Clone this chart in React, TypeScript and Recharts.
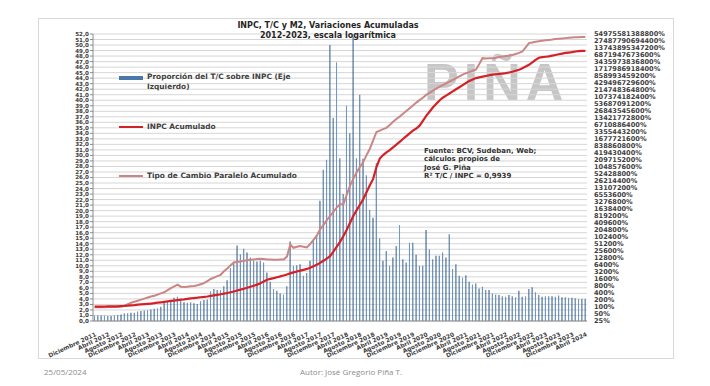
import React from 'react';
import { ComposedChart, Bar, Line, XAxis, YAxis, CartesianGrid } from 'recharts';

// Meses, diciembre 2011 a abril 2024
const monthNames = ['Enero', 'Febrero', 'Marzo', 'Abril', 'Mayo', 'Junio', 'Julio', 'Agosto', 'Septiembre', 'Octubre', 'Noviembre', 'Diciembre'];
const months: string[] = [];
for (let k = 0; k < 149; k++) {
  months.push(`${monthNames[(11 + k) % 12]} ${2011 + Math.floor((11 + k) / 12)}`);
}

// Proporción del T/C sobre INPC (eje izquierdo)
const ratioTcInpc = [
  1.0, 1.0, 1.0, 1.0, 0.9, 0.9, 1.0, 1.1, 1.2, 1.4,
  1.4, 1.5, 1.5, 1.7, 1.8, 1.9, 2.0, 2.1, 2.2, 2.3,
  2.6, 3.4, 3.5, 3.7, 4.2, 4.4, 3.7, 3.4, 3.3, 3.4,
  3.2, 3.1, 3.6, 3.8, 3.9, 5.4, 5.8, 5.6, 5.6, 6.3,
  7.4, 9.6, 10.8, 13.7, 12.1, 13.1, 12.4, 11.5, 10.9, 10.8,
  10.9, 10.6, 8.8, 7.1, 5.8, 5.5, 5.0, 4.8, 6.3, 14.4,
  10.0, 10.1, 10.3, 8.2, 8.7, 10.9, 14.5, 15.6, 21.8, 27.4,
  29.2, 50.0, 36.8, 46.9, 29.5, 23.0, 39.0, 34.0, 51.5, 29.5,
  41.0, 29.4, 26.4, 20.1, 18.7, 28.6, 15.0, 10.9, 12.7, 10.0,
  11.5, 13.6, 17.4, 11.2, 10.6, 14.2, 14.2, 12.0, 10.0, 10.0,
  16.5, 13.0, 11.2, 11.8, 11.8, 12.4, 11.5, 15.7, 9.4, 10.3,
  8.2, 7.9, 8.3, 7.1, 6.6, 6.8, 5.9, 6.2, 5.6, 5.6,
  5.0, 4.8, 4.7, 4.5, 4.4, 4.7, 4.5, 4.3, 5.5, 4.4,
  4.5, 5.8, 6.1, 5.2, 4.7, 4.4, 4.5, 4.5, 4.5, 4.4,
  4.6, 4.3, 4.3, 4.2, 4.2, 4.1, 4.0, 4.0, 4.0,
];

// INPC acumulado, % (eje derecho, log)
const inpcAcum = [
  104, 104, 104, 105, 106, 106, 106, 107, 109, 111,
  114, 118, 121, 126, 129, 133, 137, 141, 146, 153,
  159, 166, 174, 182, 189, 197, 206, 214, 225, 233,
  243, 251, 262, 271, 283, 299, 316, 334, 353, 376,
  400, 429, 466, 510, 558, 611, 673, 746, 822, 919,
  1056, 1255, 1493, 1622, 1750, 1903, 2067, 2263, 2510, 2786,
  3091, 3360, 3651, 3968, 4342, 4918, 5648, 6624, 7878, 9702,
  12109, 15219, 23885, 38810, 63027, 109773, 204800, 409600, 819200, 1.426e6,
  2.483e6, 4.325e6, 8.651e6, 1.730e7, 3.227e7, 1.049e8, 2.410e8, 3.408e8, 4.496e8, 5.536e8,
  7.302e8, 9.639e8, 1.272e9, 1.678e9, 2.215e9, 2.921e9, 3.855e9, 4.744e9, 6.260e9, 1.017e10,
  1.652e10, 2.504e10, 3.795e10, 5.369e10, 7.592e10, 1.002e11, 1.234e11, 1.519e11, 1.870e11, 2.302e11,
  2.834e11, 3.489e11, 4.295e11, 5.287e11, 6.073e11, 6.979e11, 7.478e11, 8.014e11, 8.590e11, 9.208e11,
  9.870e11, 1.021e12, 1.057e12, 1.094e12, 1.134e12, 1.215e12, 1.302e12, 1.445e12, 1.603e12, 1.842e12,
  2.189e12, 2.604e12, 3.319e12, 4.230e12, 5.209e12, 5.584e12, 5.779e12, 5.982e12, 6.412e12, 6.872e12,
  7.367e12, 7.896e12, 8.459e12, 8.755e12, 9.071e12, 9.717e12, 1.006e13, 1.042e13, 1.042e13,
];

// Tipo de cambio paralelo acumulado, % (eje derecho, log)
const tcAcum = [
  96.6, 96.6, 98.0, 98.6, 100, 100, 101, 103, 104, 115,
  132, 152, 168, 187, 207, 230, 255, 283, 303, 341,
  384, 429, 528, 650, 773, 919, 746, 721, 746, 773,
  800, 858, 951, 1056, 1300, 1600, 1838, 2112, 2425, 3430,
  4525, 6182, 8154, 8563, 9050, 9702, 10253, 10835, 11142, 11456,
  11776, 11539, 11142, 10989, 10835, 10835, 10989, 11142, 14707, 47770,
  35226, 38810, 41600, 38810, 36198, 51200, 77619, 117658, 219546, 332800,
  540672, 819200, 1.242e6, 1.882e6, 2.662e6, 2.570e6, 6.554e6, 1.614e7, 3.227e7, 6.024e7,
  1.049e8, 1.705e8, 3.408e8, 6.358e8, 1.461e9, 3.355e9, 3.855e9, 4.429e9, 5.086e9, 6.711e9,
  9.167e9, 1.210e10, 1.542e10, 2.034e10, 2.684e10, 3.543e10, 4.673e10, 6.169e10, 7.860e10, 1.002e11,
  1.322e11, 1.628e11, 2.004e11, 2.467e11, 2.933e11, 3.489e11, 4.176e11, 4.935e11, 5.867e11, 6.979e11,
  8.298e11, 9.870e11, 1.134e12, 1.258e12, 1.445e12, 1.603e12, 2.792e12, 5.030e12, 4.859e12, 5.030e12,
  5.030e12, 5.209e12, 5.584e12, 5.982e12, 6.195e12, 6.412e12, 6.872e12, 7.628e12, 8.459e12, 9.717e12,
  1.473e13, 2.233e13, 2.392e13, 2.564e13, 2.692e13, 2.826e13, 2.947e13, 3.051e13, 3.159e13, 3.315e13,
  3.455e13, 3.552e13, 3.653e13, 3.755e13, 3.860e13, 3.969e13, 4.025e13, 4.080e13, 4.108e13,
];

const leftTicks = Array.from({ length: 53 }, (_, k) => k);
const rightTicks = [
  25, 50, 100, 200, 400, 800, 1600, 3200, 6400, 12800, 25600, 51200, 102400, 204800,
  409600, 819200, 1638400, 3276800, 6553600, 13107200, 26214400, 52428800, 104857600,
  209715200, 419430400, 838860800, 1677721600, 3355443200, 6710886400, 13421772800,
  26843545600, 53687091200, 107374182400, 214748364800, 429496729600, 858993459200,
  1717986918400, 3435973836800, 6871947673600, 13743895347200, 27487790694400, 54975581388800,
];

const data = months.map((month, i) => ({ month, ratio: ratioTcInpc[i], inpc: inpcAcum[i], tc: tcAcum[i] }));

const FONT = 'DejaVu Sans';
const TXT = '#404040';

function XTick(props: any) {
  const { x, y, payload } = props;
  return (
    <g transform={`translate(${x},${y})`}>
      <text x={-1} y={7} textAnchor="end" transform="rotate(-25)" fontSize={5.9} fontWeight={700} fill={TXT} fontFamily={FONT}>
        {payload.value}
      </text>
    </g>
  );
}

const abs = (left: number, top: number, extra: React.CSSProperties = {}): React.CSSProperties => ({ position: 'absolute', left, top, whiteSpace: 'nowrap', ...extra });

export default function App() {
  const lbl: React.CSSProperties = { fontFamily: FONT, fontWeight: 700, fontSize: 7.4, color: TXT, lineHeight: '10px' };
  const src: React.CSSProperties = { fontFamily: FONT, fontWeight: 700, fontSize: 7, color: '#333', lineHeight: '8.4px' };
  return (
    <div style={{ position: 'absolute', left: 0, top: 0, width: 710, height: 386, background: '#fff', overflow: 'hidden', fontFamily: FONT }}>
      <div style={abs(38, 18, { width: 634, height: 339, border: '1px solid #d9d9d9' })} />
      <div style={abs(424, 56, { fontFamily: 'Liberation Sans', fontWeight: 700, fontSize: 52, lineHeight: '52px', letterSpacing: 5, color: '#c6c6c6' })}>PIÑA</div>

      <div style={abs(0, 0)}>
        <ComposedChart width={710} height={386} data={data} margin={{ top: 34, right: 38, bottom: 15, left: 38 }} barCategoryGap="30%">
          <defs>
            <linearGradient id="barGrad" x1="0" y1="0" x2="1" y2="0">
              <stop offset="0%" stopColor="#1f4b78" />
              <stop offset="50%" stopColor="#6f9acb" />
              <stop offset="100%" stopColor="#1f4b78" />
            </linearGradient>
          </defs>
          <CartesianGrid yAxisId="left" vertical={false} stroke="#d6d6d6" strokeWidth={1} />
          <XAxis dataKey="month" interval={3} height={50} tick={<XTick />} tickLine={false} axisLine={{ stroke: '#8c8c8c' }} />
          <YAxis yAxisId="left" width={55} domain={[0, 52]} ticks={leftTicks} interval={0} allowDataOverflow
            tick={{ fontSize: 5.6, fontWeight: 700, fill: TXT, fontFamily: FONT }}
            tickFormatter={(v: number) => v.toFixed(1).replace('.', ',')}
            tickSize={3} tickMargin={1} axisLine={{ stroke: '#8c8c8c' }} tickLine={{ stroke: '#8c8c8c' }} />
          <YAxis yAxisId="right" orientation="right" width={85} scale="log" domain={[25, 54975581388800]} ticks={rightTicks} interval={0} allowDataOverflow
            tick={{ fontSize: 6.6, fontWeight: 700, fill: TXT, fontFamily: FONT, textAnchor: 'start' }}
            tickFormatter={(v: number) => `${v}%`}
            tickSize={0} tickMargin={7} axisLine={false} tickLine={false} />
          <Bar yAxisId="left" dataKey="ratio" fill="url(#barGrad)" isAnimationActive={false} />
          <Line yAxisId="right" type="linear" dataKey="tc" stroke="#cc8585" strokeWidth={2} dot={false} isAnimationActive={false} />
          <Line yAxisId="right" type="linear" dataKey="inpc" stroke="#d42027" strokeWidth={2.2} dot={false} isAnimationActive={false} />
        </ComposedChart>
      </div>

      <div style={abs(180, 21, { width: 296, textAlign: 'center', fontFamily: FONT, fontWeight: 700, fontSize: 8, lineHeight: '9.5px', color: '#262626' })}>
        INPC, T/C y M2, Variaciones Acumuladas<br />2012-2023, escala logarítmica
      </div>

      <div style={abs(119, 76, { width: 24, height: 4, background: '#4a78a8' })} />
      <div style={abs(147, 72, lbl)}>Proporción del T/C sobre INPC (Eje<br />Izquierdo)</div>
      <div style={abs(119, 126, { width: 24, height: 2.4, background: '#d42027' })} />
      <div style={abs(147, 122, lbl)}>INPC Acumulado</div>
      <div style={abs(119, 175, { width: 24, height: 2.2, background: '#cc8585' })} />
      <div style={abs(147, 171, lbl)}>Tipo de Cambio Paralelo Acumulado</div>

      <div style={abs(424, 147, src)}>
        Fuente: BCV, Sudeban, Web;<br />cálculos propios de<br />José G. Piña<br />R² T/C / INPC = 0,9939
      </div>

      <div style={abs(44, 366, { fontFamily: 'Open Sans', fontSize: 8, color: '#8c8c8c' })}>25/05/2024</div>
      <div style={abs(300, 366, { fontFamily: 'Open Sans', fontSize: 8, color: '#8c8c8c' })}>Autor: José Gregorio Piña T.</div>
    </div>
  );
}
